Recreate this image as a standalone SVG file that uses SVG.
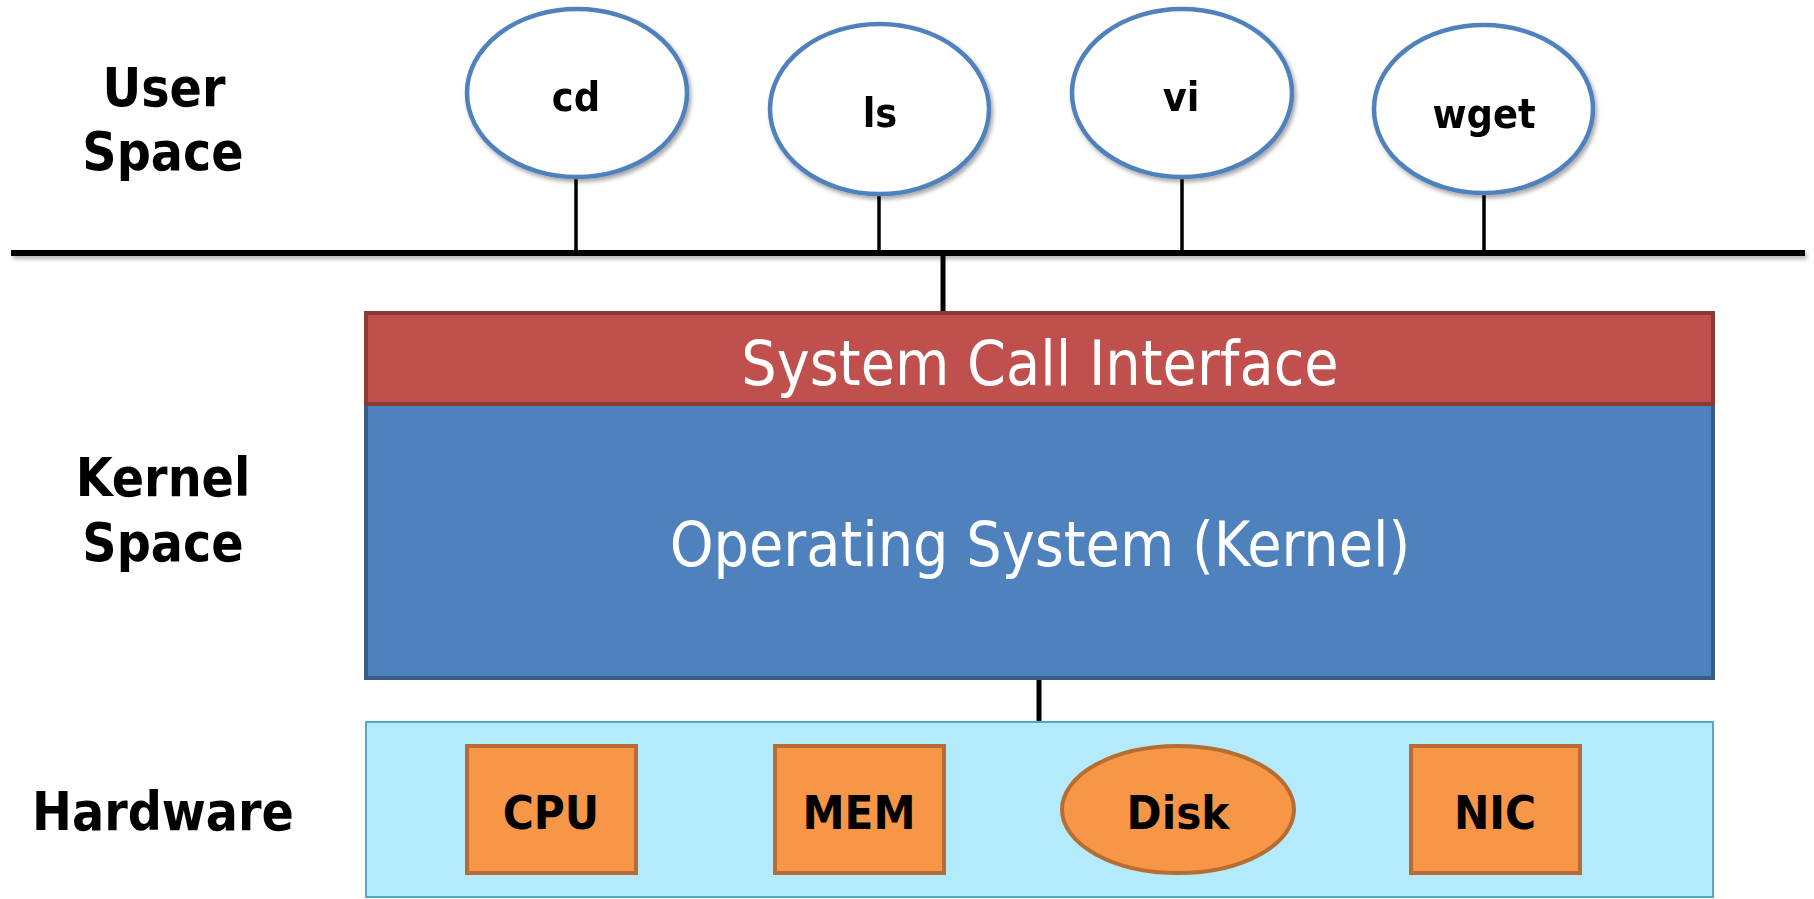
<svg xmlns="http://www.w3.org/2000/svg" width="1814" height="899" viewBox="0 0 1814 899">
<style>
.lbl{font-family:"DejaVu Sans Condensed","DejaVu Sans",sans-serif;font-stretch:condensed;font-weight:bold;font-size:53px;fill:#000;text-anchor:middle}
.app{fill:#fff;stroke:#4F81BD;stroke-width:4.5}
.appt{font-family:"DejaVu Sans Condensed","DejaVu Sans",sans-serif;font-stretch:condensed;font-weight:bold;font-size:41px;fill:#000;text-anchor:middle}
.big{font-family:"DejaVu Sans Condensed","DejaVu Sans",sans-serif;font-stretch:condensed;font-size:62px;fill:#fff;text-anchor:middle}
.hw{fill:#F79646;stroke:#B66D31;stroke-width:4}
.hwt{font-family:"DejaVu Sans Condensed","DejaVu Sans",sans-serif;font-stretch:condensed;font-weight:bold;font-size:47px;fill:#000;text-anchor:middle}
.stem{stroke:#000;stroke-width:3.5}
</style>
<defs>
<filter id="sh" x="-20%" y="-20%" width="140%" height="140%">
<feDropShadow dx="2" dy="3" stdDeviation="2" flood-color="#000" flood-opacity="0.35"/>
</filter>
<filter id="shl" filterUnits="userSpaceOnUse" x="0" y="240" width="1814" height="30">
<feDropShadow dx="2" dy="3" stdDeviation="2" flood-color="#000" flood-opacity="0.3"/>
</filter>
</defs>
<rect width="1814" height="899" fill="#fff"/>
<g id="labels">
<text class="lbl" x="164" y="106">User</text>
<text class="lbl" x="163" y="170">Space</text>
<text class="lbl" x="163" y="496">Kernel</text>
<text class="lbl" x="163" y="561">Space</text>
<text class="lbl" x="163" y="830">Hardware</text>
</g>
<g id="connectors">
<line x1="11" y1="253" x2="1805" y2="253" stroke="#000" stroke-width="6" filter="url(#shl)"/>
<line class="stem" x1="576" y1="177" x2="576" y2="253"/>
<line class="stem" x1="879" y1="194" x2="879" y2="253"/>
<line class="stem" x1="1182" y1="177" x2="1182" y2="253"/>
<line class="stem" x1="1484" y1="193" x2="1484" y2="253"/>
<line x1="943" y1="253" x2="943" y2="313" stroke="#000" stroke-width="5"/>
<line x1="1039" y1="678" x2="1039" y2="722" stroke="#000" stroke-width="5"/>
</g>
<g id="app-cd" filter="url(#sh)">
<ellipse class="app" cx="577" cy="93" rx="110" ry="84"/>
<text class="appt" x="576" y="111">cd</text>
</g>
<g id="app-ls" filter="url(#sh)">
<ellipse class="app" cx="879.5" cy="109" rx="109.5" ry="85"/>
<text class="appt" x="880" y="127">ls</text>
</g>
<g id="app-vi" filter="url(#sh)">
<ellipse class="app" cx="1182" cy="93" rx="110" ry="84"/>
<text class="appt" x="1181" y="111">vi</text>
</g>
<g id="app-wget" filter="url(#sh)">
<ellipse class="app" cx="1483.5" cy="109" rx="109.5" ry="84"/>
<text class="appt" x="1484" y="128">wget</text>
</g>
<g id="kernel">
<rect x="366" y="404" width="1347" height="274" fill="#4F81BD" stroke="#385D8A" stroke-width="4"/>
<text class="big" x="1040" y="566">Operating System (Kernel)</text>
</g>
<g id="syscall">
<rect x="366" y="313" width="1347" height="91" fill="#C0504D" stroke="#8C3836" stroke-width="4"/>
<text class="big" x="1040" y="385">System Call Interface</text>
</g>
<g id="hardware">
<rect x="366" y="722" width="1347" height="175" fill="#B3EBFC" stroke="#4BACC6" stroke-width="2"/>
</g>
<g id="hw-cpu">
<rect class="hw" x="467" y="746" width="169" height="127"/>
<text class="hwt" x="551" y="829">CPU</text>
</g>
<g id="hw-mem">
<rect class="hw" x="775" y="746" width="169" height="127"/>
<text class="hwt" x="859" y="829">MEM</text>
</g>
<g id="hw-disk">
<ellipse class="hw" cx="1178" cy="809.5" rx="116" ry="63.5"/>
<text class="hwt" x="1178" y="829">Disk</text>
</g>
<g id="hw-nic">
<rect class="hw" x="1411" y="746" width="169" height="127"/>
<text class="hwt" x="1495" y="829">NIC</text>
</g>
</svg>
